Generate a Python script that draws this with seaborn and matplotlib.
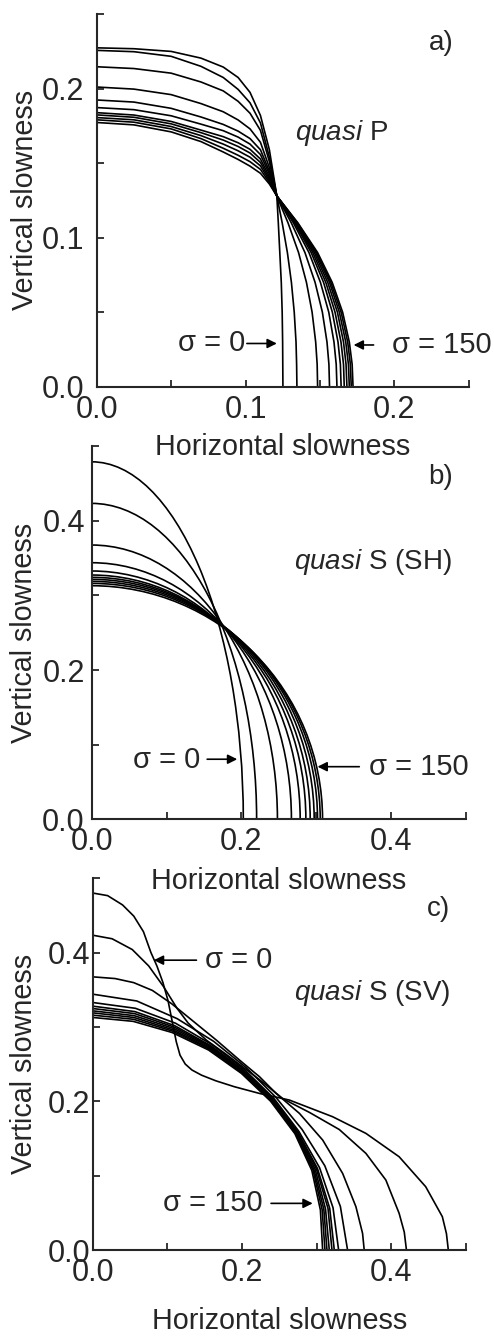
import numpy as np
import pandas as pd
import matplotlib
matplotlib.use("Agg")
import matplotlib.pyplot as plt
from matplotlib.patches import Arc
from matplotlib.ticker import MultipleLocator, FormatStrFormatter
import seaborn as sns

# ---------------- data ----------------
sigma = [0, 15, 30, 45, 60, 75, 90, 105, 120, 135, 150]

# Panel a (quasi P): upper branch sampled at shared x, side branch at shared y
A_top_x = [0.0, 0.025, 0.05, 0.07, 0.085, 0.095, 0.103, 0.110, 0.116, 0.121]
A_top_y = [
    [0.2274, 0.2268, 0.2250, 0.2205, 0.2145, 0.2075, 0.1975, 0.1820, 0.1590, 0.128],
    [0.2257, 0.2248, 0.2217, 0.2150, 0.2075, 0.1995, 0.1905, 0.1770, 0.1540, 0.128],
    [0.2147, 0.2135, 0.2104, 0.2045, 0.1985, 0.1915, 0.1835, 0.1720, 0.1510, 0.128],
    [0.2011, 0.1997, 0.1960, 0.1900, 0.1845, 0.1790, 0.1730, 0.1640, 0.1470, 0.128],
    [0.1924, 0.1910, 0.1868, 0.1810, 0.1760, 0.1715, 0.1665, 0.1590, 0.1445, 0.128],
    [0.1873, 0.1859, 0.1818, 0.1762, 0.1718, 0.1675, 0.1628, 0.1558, 0.1428, 0.128],
    [0.1839, 0.1823, 0.1780, 0.1722, 0.1678, 0.1637, 0.1593, 0.1528, 0.1410, 0.128],
    [0.1824, 0.1808, 0.1764, 0.1705, 0.1655, 0.1612, 0.1568, 0.1505, 0.1395, 0.128],
    [0.1806, 0.1791, 0.1746, 0.1685, 0.1628, 0.1583, 0.1540, 0.1482, 0.1382, 0.128],
    [0.1791, 0.1775, 0.1730, 0.1665, 0.1600, 0.1553, 0.1510, 0.1458, 0.1370, 0.128],
    [0.1773, 0.1757, 0.1710, 0.1645, 0.1575, 0.1525, 0.1480, 0.1432, 0.1360, 0.128],
]
A_side_y = [0.11, 0.09, 0.07, 0.05, 0.03, 0.015, 0.0]
A_side_x = [
    [0.1220, 0.1230, 0.1240, 0.1246, 0.1249, 0.1250, 0.1251],
    [0.1246, 0.1281, 0.1308, 0.1327, 0.1339, 0.1343, 0.1345],
    [0.1285, 0.1356, 0.1409, 0.1447, 0.1471, 0.1481, 0.1484],
    [0.1307, 0.1399, 0.1467, 0.1516, 0.1547, 0.1560, 0.1564],
    [0.1321, 0.1426, 0.1503, 0.1559, 0.1594, 0.1609, 0.1614],
    [0.1329, 0.1441, 0.1524, 0.1583, 0.1621, 0.1637, 0.1642],
    [0.1335, 0.1452, 0.1539, 0.1601, 0.1641, 0.1658, 0.1663],
    [0.1340, 0.1462, 0.1552, 0.1617, 0.1658, 0.1675, 0.1681],
    [0.1344, 0.1471, 0.1564, 0.1630, 0.1673, 0.1691, 0.1697],
    [0.1348, 0.1478, 0.1573, 0.1642, 0.1686, 0.1704, 0.1710],
    [0.1351, 0.1484, 0.1582, 0.1652, 0.1697, 0.1716, 0.1722],
]

# Panel b (quasi S, SH): elliptical curves given by their two intercepts
B_vertical = [0.479, 0.4233, 0.3675, 0.3438, 0.3327, 0.3273, 0.3242, 0.3215, 0.3188, 0.3161, 0.313]
B_horizontal = [0.2026, 0.2204, 0.2482, 0.2669, 0.2786, 0.2862, 0.292, 0.2973, 0.3018, 0.3054, 0.3085]

# Panel c (quasi S, SV): outer three curves traced as (x, y) points
C0_x = [0.0, 0.02, 0.04, 0.055, 0.068, 0.078, 0.086, 0.094, 0.101, 0.107, 0.112, 0.117,
        0.124, 0.133, 0.146, 0.165, 0.19, 0.2236, 0.2636, 0.3215, 0.3661, 0.4106,
        0.4462, 0.4685, 0.474, 0.4765]
C0_y = [0.480, 0.4765, 0.4640, 0.4490, 0.4280, 0.4000, 0.3820, 0.3600, 0.3350, 0.3050,
        0.2800, 0.2620, 0.2500, 0.2420, 0.2350, 0.2275, 0.2195, 0.2105, 0.2016, 0.1792,
        0.1568, 0.1254, 0.0851, 0.0448, 0.0220, 0.0]
C1_x = [0.0, 0.026, 0.053, 0.075, 0.095, 0.113, 0.128, 0.1523, 0.1772, 0.200, 0.2236,
        0.2547, 0.2904, 0.3304, 0.3661, 0.3928, 0.4106, 0.4175, 0.4204]
C1_y = [0.4233, 0.4185, 0.4040, 0.3820, 0.3540, 0.3250, 0.3050, 0.2822, 0.2643, 0.2470,
        0.2290, 0.2035, 0.1850, 0.1620, 0.1299, 0.0941, 0.0493, 0.0240, 0.0]
C2_x = [0.0, 0.03, 0.055, 0.08, 0.106, 0.133, 0.1657, 0.1968, 0.2236, 0.2458, 0.277,
        0.3082, 0.3349, 0.3527, 0.3616, 0.3638]
C2_y = [0.3673, 0.3650, 0.3595, 0.3490, 0.3310, 0.3090, 0.2822, 0.2553, 0.2329, 0.2105,
        0.1837, 0.1478, 0.1030, 0.0582, 0.0224, 0.0]
# inner SV curves: slowness magnitude at polar angles (deg from vertical axis)
C_angles = [0, 10, 20, 30, 40, 50, 60, 70, 80, 90]
C_inner_r = [
    [0.3440, 0.3400, 0.3310, 0.3240, 0.3200, 0.3200, 0.3240, 0.3310, 0.3370, 0.3415],
    [0.3328, 0.3300, 0.3245, 0.3190, 0.3165, 0.3170, 0.3190, 0.3235, 0.3270, 0.3295],
    [0.3279, 0.3255, 0.3210, 0.3170, 0.3150, 0.3155, 0.3175, 0.3205, 0.3225, 0.3237],
    [0.3247, 0.3228, 0.3190, 0.3158, 0.3140, 0.3145, 0.3165, 0.3190, 0.3202, 0.3206],
    [0.3216, 0.3200, 0.3170, 0.3145, 0.3130, 0.3135, 0.3155, 0.3172, 0.3168, 0.3170],
    [0.3189, 0.3175, 0.3150, 0.3132, 0.3120, 0.3128, 0.3145, 0.3155, 0.3145, 0.3139],
    [0.3158, 0.3150, 0.3132, 0.3120, 0.3110, 0.3120, 0.3138, 0.3142, 0.3122, 0.3112],
    [0.3127, 0.3122, 0.3112, 0.3105, 0.3100, 0.3112, 0.3128, 0.3125, 0.3098, 0.3081],
]

# ---------------- build long tables ----------------
rows_a = []
for i, s in enumerate(sigma):
    xs = list(A_top_x) + list(A_side_x[i])
    ys = list(A_top_y[i]) + list(A_side_y)
    for k, (x, y) in enumerate(zip(xs, ys)):
        rows_a.append((s, k, x, y))
df_a = pd.DataFrame(rows_a, columns=["sigma", "order", "x", "y"])

rows_c = []
for s, xs, ys in zip(sigma[:3], [C0_x, C1_x, C2_x], [C0_y, C1_y, C2_y]):
    for k, (x, y) in enumerate(zip(xs, ys)):
        rows_c.append((s, k, x, y))
th = np.deg2rad(C_angles)
for s, r in zip(sigma[3:], C_inner_r):
    r = np.asarray(r)
    for k, (x, y) in enumerate(zip(r * np.sin(th), r * np.cos(th))):
        rows_c.append((s, k, x, y))
df_c = pd.DataFrame(rows_c, columns=["sigma", "order", "x", "y"])

# ---------------- style ----------------
sns.set_style("ticks")
plt.rcParams["font.family"] = ["Liberation Sans", "DejaVu Sans"]
plt.rcParams["mathtext.fontset"] = "custom"
plt.rcParams["mathtext.it"] = "Liberation Sans:italic"
plt.rcParams["mathtext.rm"] = "Liberation Sans"

FS_TICK = 22
FS_LAB = 20.7
FS_TXT = 20
FS_SIG = 21
LW = 1.2

fig = plt.figure(figsize=(4.94, 13.36), dpi=100)
W, H = 494.0, 1336.0


def make_ax(left, right, top, bottom):
    ax = fig.add_axes([left / W, 1 - bottom / H, (right - left) / W, (bottom - top) / H])
    ax.set_facecolor("none")
    return ax


ax_a = make_ax(96.7, 469, 14, 386.7)
ax_b = make_ax(91.7, 466, 446, 819.3)
ax_c = make_ax(92.7, 466, 878, 1250)

# panel a
sns.lineplot(data=df_a, x="x", y="y", units="sigma", estimator=None, sort=False,
             color="black", lw=LW, ax=ax_a, legend=False)
# panel b
for yv, xh in zip(B_vertical, B_horizontal):
    ax_b.add_patch(Arc((0, 0), 2 * xh, 2 * yv, theta1=0, theta2=90,
                       color="black", lw=LW))
# panel c
sns.lineplot(data=df_c, x="x", y="y", units="sigma", estimator=None, sort=False,
             color="black", lw=LW, ax=ax_c, legend=False)


def style_axis(ax, lim, major, minor, xpad, ypad, xlab_y, ylab_x):
    ax.set_xlim(0, lim * 1.0004)
    ax.set_ylim(0, lim * 1.0004)
    ax.xaxis.set_major_locator(MultipleLocator(major))
    ax.yaxis.set_major_locator(MultipleLocator(major))
    ax.xaxis.set_minor_locator(MultipleLocator(minor))
    ax.yaxis.set_minor_locator(MultipleLocator(minor))
    for sp in ["top", "right"]:
        ax.spines[sp].set_visible(False)
    for sp in ["left", "bottom"]:
        ax.spines[sp].set_linewidth(1.5)
    ax.tick_params(which="both", direction="in", length=5, width=1.3, labelsize=FS_TICK)
    ax.tick_params(axis="x", which="both", pad=xpad)
    ax.tick_params(axis="y", which="both", pad=ypad)
    ax.xaxis.set_major_formatter(FormatStrFormatter("%.1f"))
    ax.yaxis.set_major_formatter(FormatStrFormatter("%.1f"))
    ax.set_xlabel("Horizontal slowness", fontsize=FS_LAB)
    ax.set_ylabel("Vertical slowness", fontsize=FS_LAB)
    ax.xaxis.set_label_coords(0.5, xlab_y)
    ax.yaxis.set_label_coords(ylab_x, 0.5)


style_axis(ax_a, 0.25, 0.1, 0.05, 6, 9, -0.125, -0.155)
style_axis(ax_b, 0.5, 0.2, 0.1, 5.5, 5, -0.128, -0.143)
style_axis(ax_c, 0.5, 0.2, 0.1, 6, 2, -0.152, -0.147)

arrow_kw = dict(arrowstyle="-|>", color="black", lw=1.2, mutation_scale=14,
                shrinkA=0, shrinkB=0)

# texts panel a
ax_a.text(0.2315, 0.2306, "a)", fontsize=FS_TXT, ha="center", va="center")
ax_a.text(0.1334, 0.170, r"$\mathit{quasi}$ P", fontsize=FS_TXT, ha="left", va="center")
ax_a.text(0.0997, 0.029, "σ = 0", fontsize=FS_SIG, ha="right", va="center")
ax_a.annotate("", xy=(0.121, 0.029), xytext=(0.1009, 0.029), arrowprops=arrow_kw)
ax_a.annotate("", xy=(0.1726, 0.028), xytext=(0.186, 0.028), arrowprops=arrow_kw)
ax_a.text(0.1984, 0.028, "σ = 150", fontsize=FS_SIG, ha="left", va="center")

# texts panel b
ax_b.text(0.4659, 0.4585, "b)", fontsize=FS_TXT, ha="center", va="center")
ax_b.text(0.27, 0.3447, r"$\mathit{quasi}$ S (SH)", fontsize=FS_TXT, ha="left", va="center")
ax_b.text(0.1453, 0.079, "σ = 0", fontsize=FS_SIG, ha="right", va="center")
ax_b.annotate("", xy=(0.1945, 0.0805), xytext=(0.1543, 0.0805), arrowprops=arrow_kw)
ax_b.annotate("", xy=(0.3018, 0.0705), xytext=(0.3576, 0.0705), arrowprops=arrow_kw)
ax_b.text(0.3706, 0.0705, "σ = 150", fontsize=FS_SIG, ha="left", va="center")

# texts panel c
ax_c.text(0.464, 0.4582, "c)", fontsize=FS_TXT, ha="center", va="center")
ax_c.text(0.2703, 0.3453, r"$\mathit{quasi}$ S (SV)", fontsize=FS_TXT, ha="left", va="center")
ax_c.annotate("", xy=(0.0819, 0.3897), xytext=(0.139, 0.3897), arrowprops=arrow_kw)
ax_c.text(0.150, 0.3897, "σ = 0", fontsize=FS_SIG, ha="left", va="center")
ax_c.text(0.228, 0.0627, "σ = 150", fontsize=FS_SIG, ha="right", va="center")
ax_c.annotate("", xy=(0.2948, 0.0627), xytext=(0.239, 0.0627), arrowprops=arrow_kw)

fig.savefig("out.png", dpi=100)
